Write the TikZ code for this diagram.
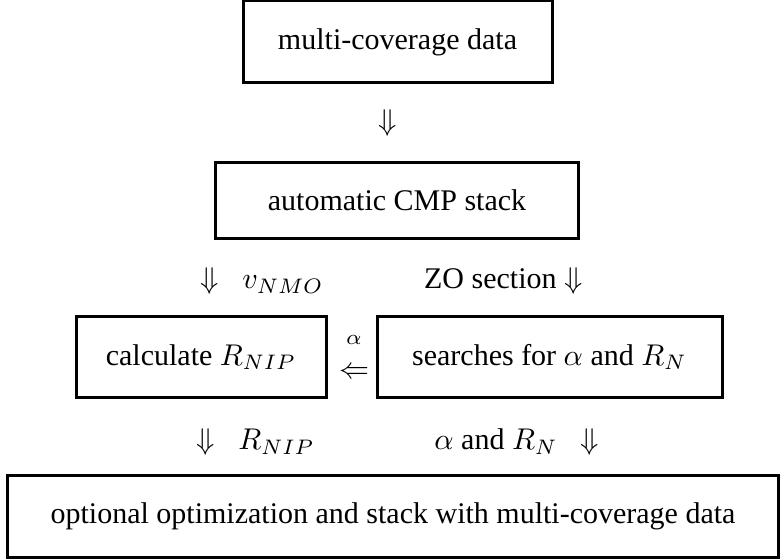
\documentclass[tikz,border=0pt]{standalone}
\usepackage{fontspec}
\setmainfont{Liberation Serif}
\begin{document}
\begin{tikzpicture}[x=0.33333pt,y=-0.33333pt,
  box/.style={draw,line width=1pt,inner sep=0pt,font=\rmfamily\fontsize{10}{12}\selectfont},
  lbl/.style={inner sep=0pt,font=\rmfamily\fontsize{10}{12}\selectfont}]
\useasboundingbox (0,0) rectangle (780,558);
\node[box,minimum width=103pt,minimum height=27.33pt] (data) at (397.5,42) {multi-coverage data};
\node[lbl] (a1) at (388,123) {$\Downarrow$};
\node[box,minimum width=121pt,minimum height=25pt] (cmp) at (397,200.5) {automatic CMP stack};
\node[lbl,anchor=west] (l1) at (200,281) {$\Downarrow\ \ v_{NMO}$};
\node[lbl,anchor=east] (l2) at (583,281) {ZO section $\Downarrow$};
\node[box,minimum width=83.33pt,minimum height=26.67pt] (calc) at (201,357) {calculate $R_{NIP}$};
\node[lbl] (a2a) at (354,340) {$\scriptstyle\alpha$};
\node[lbl] (a2) at (354,373) {$\Leftarrow$};
\node[box,minimum width=115pt,minimum height=26.67pt] (search) at (549.5,357) {searches for $\alpha$ and $R_N$};
\node[lbl,anchor=west] (l3) at (196,442) {$\Downarrow\ \ R_{NIP}$};
\node[lbl,anchor=east] (l4) at (599,442) {$\alpha$ and $R_N$\ \ \ $\Downarrow$};
\node[box,minimum width=257.3pt,minimum height=27.33pt] (opt) at (393,516) {optional optimization and stack with multi-coverage data};
\end{tikzpicture}
\end{document}
